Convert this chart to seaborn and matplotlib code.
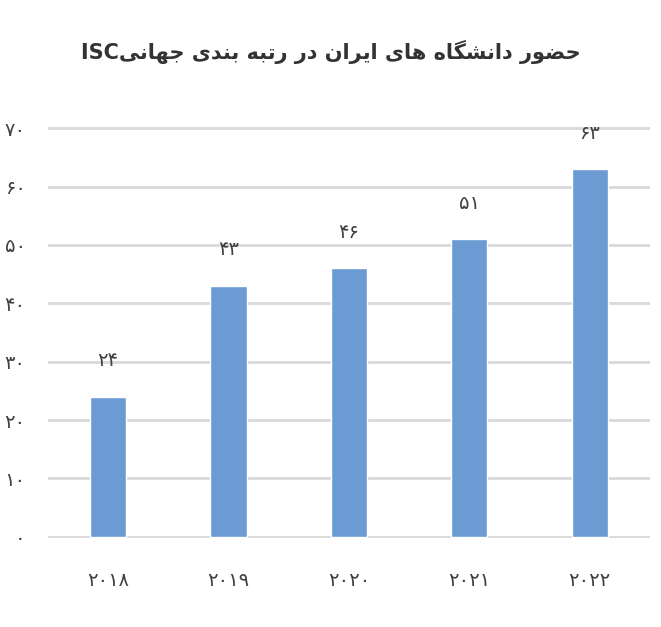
import matplotlib
matplotlib.use("Agg")
import matplotlib.pyplot as plt
import seaborn as sns
import pandas as pd

years = ["۲۰۱۸", "۲۰۱۹", "۲۰۲۰", "۲۰۲۱", "۲۰۲۲"]
values = [24, 43, 46, 51, 63]
value_labels = ["۲۴", "۴۳", "۴۶", "۵۱", "۶۳"]
y_ticks = [0, 10, 20, 30, 40, 50, 60, 70]
y_tick_labels = ["۰", "۱۰", "۲۰", "۳۰", "۴۰", "۵۰", "۶۰", "۷۰"]
title_fa = "حضور دانشگاه های ایران در رتبه بندی جهانی"
title_latin = "ISC"

# Minimal Arabic/Persian shaping (matplotlib has no text shaping)
FORMS = {
    "ح": ("\uFEA1", "\uFEA2", "\uFEA3", "\uFEA4"),
    "ض": ("\uFEBD", "\uFEBE", "\uFEBF", "\uFEC0"),
    "و": ("\uFEED", "\uFEEE", None, None),
    "ر": ("\uFEAD", "\uFEAE", None, None),
    "د": ("\uFEA9", "\uFEAA", None, None),
    "ا": ("\uFE8D", "\uFE8E", None, None),
    "ن": ("\uFEE5", "\uFEE6", "\uFEE7", "\uFEE8"),
    "ش": ("\uFEB5", "\uFEB6", "\uFEB7", "\uFEB8"),
    "گ": ("\uFB92", "\uFB93", "\uFB94", "\uFB95"),
    "ه": ("\uFEE9", "\uFEEA", "\uFEEB", "\uFEEC"),
    "ی": ("\uFBFC", "\uFBFD", "\uFBFE", "\uFBFF"),
    "ت": ("\uFE95", "\uFE96", "\uFE97", "\uFE98"),
    "ب": ("\uFE8F", "\uFE90", "\uFE91", "\uFE92"),
    "ج": ("\uFE9D", "\uFE9E", "\uFE9F", "\uFEA0"),
}


def joins_next(ch):
    return ch in FORMS and FORMS[ch][2] is not None


def shape(text):
    out = []
    for i, ch in enumerate(text):
        if ch not in FORMS:
            out.append(ch)
            continue
        prev = text[i - 1] if i > 0 else ""
        nxt = text[i + 1] if i + 1 < len(text) else ""
        jp = joins_next(prev)
        jn = joins_next(ch) and nxt in FORMS
        iso, fin, ini, med = FORMS[ch]
        if jp and jn:
            out.append(med)
        elif jp:
            out.append(fin)
        elif jn:
            out.append(ini)
        else:
            out.append(iso)
    return "".join(reversed(out))


sns.set_style("white")
plt.rcParams["font.family"] = ["DejaVu Sans"]

df = pd.DataFrame({"year": years, "value": values})

fig = plt.figure(figsize=(6.61, 6.27), dpi=100)
ax = fig.add_axes([0.0726, 0.1420, 0.9104, 0.6554])

sns.barplot(data=df, x="year", y="value", color="#6b9bd2", width=0.3,
            saturation=1, ax=ax, zorder=3)

ax.set_ylim(-0.2, 70.2)
ax.set_yticks(y_ticks)
ax.set_yticklabels(y_tick_labels)
ax.yaxis.grid(True, color="#d9d9d9", linewidth=2, zorder=0)
ax.set_axisbelow(True)
for s in ax.spines.values():
    s.set_visible(False)
ax.tick_params(axis="y", length=0, pad=16, labelsize=14, labelcolor="#404040")
ax.tick_params(axis="x", length=0, pad=24, labelsize=14, labelcolor="#404040")
ax.set_xlabel("")
ax.set_ylabel("")

ax.bar_label(ax.containers[0], labels=value_labels, padding=19,
             fontsize=14, color="#404040", clip_on=False)

fig.text(0.5, 0.917, title_latin + shape(title_fa), ha="center", va="center",
         fontsize=15, fontweight="bold", color="#333333")

fig.savefig("out.png", dpi=100)
